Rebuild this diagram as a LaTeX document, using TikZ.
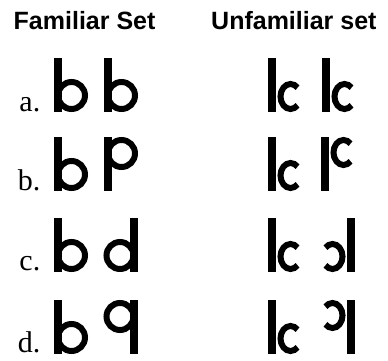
\documentclass[tikz,border=0pt]{standalone}
\usepackage{fontspec}
\setmainfont{Liberation Serif}
\newfontfamily\hdrfont{Liberation Sans}
\tikzset{
  hdr/.style={anchor=base west, inner sep=0pt, font=\hdrfont\bfseries\fontsize{25}{30}\selectfont},
  lbl/.style={anchor=base east, inner sep=0pt, font=\fontsize{30}{34}\selectfont},
  bowl/.style={line width=6pt},
  cstroke/.style={line width=6pt}
}
\newcommand\famglyph{%
  \fill (0,0) rectangle (7.8,54);
  \draw[bowl] (17.5,16.5) circle (13.5);
}
\newcommand\unfglyph{%
  \fill (0,0) rectangle (7.8,54);
  \draw[cstroke] (22.5,15.5) ++(45:10 and 12.5) arc[start angle=45, end angle=315, x radius=10, y radius=12.5];
}
\begin{document}
\begin{tikzpicture}[x=1pt,y=1pt]
\useasboundingbox (0,0) rectangle (388,361);
% headers
\node[hdr] (famhdr) at (13.5,331) {Familiar Set};
\node[hdr] (unfhdr) at (211,331) {Unfamiliar set};
% row labels
\node[lbl] (la) at (40.5,249.5) {a.};
\node[lbl] (lb) at (40.5,170.5) {b.};
\node[lbl] (lc) at (40.5,90) {c.};
\node[lbl] (ld) at (40.5,8) {d.};
% familiar set, first column
\begin{scope}[shift={(54,249)}]\famglyph\end{scope}
\begin{scope}[shift={(54,170)}]\famglyph\end{scope}
\begin{scope}[shift={(54,89)}]\famglyph\end{scope}
\begin{scope}[shift={(54,7)}]\famglyph\end{scope}
% familiar set, second column
\begin{scope}[shift={(104,249)}]\famglyph\end{scope}
\begin{scope}[shift={(104,224)},yscale=-1]\famglyph\end{scope}
\begin{scope}[shift={(137.5,89)},xscale=-1]\famglyph\end{scope}
\begin{scope}[shift={(137.5,61)},xscale=-1,yscale=-1]\famglyph\end{scope}
% unfamiliar set, first column
\begin{scope}[shift={(268,249)}]\unfglyph\end{scope}
\begin{scope}[shift={(268,170)}]\unfglyph\end{scope}
\begin{scope}[shift={(268,89)}]\unfglyph\end{scope}
\begin{scope}[shift={(268,7)}]\unfglyph\end{scope}
% unfamiliar set, second column
\begin{scope}[shift={(322,249)}]\unfglyph\end{scope}
\begin{scope}[shift={(321,224)},yscale=-1]\unfglyph\end{scope}
\begin{scope}[shift={(355,89)},xscale=-1]\unfglyph\end{scope}
\begin{scope}[shift={(355,61)},xscale=-1,yscale=-1]\unfglyph\end{scope}
\end{tikzpicture}
\end{document}
